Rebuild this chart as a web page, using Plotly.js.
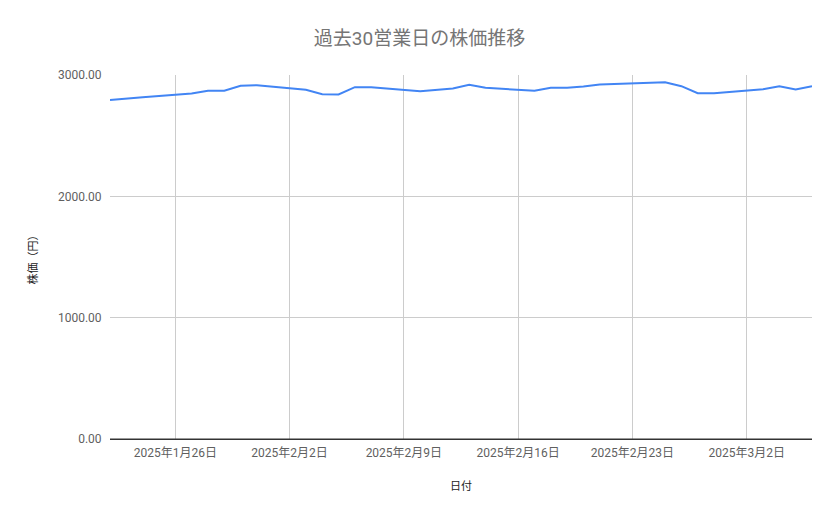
<!DOCTYPE html>
<html>
<head>
<meta charset="utf-8">
<script src="https://cdn.plot.ly/plotly-3.0.1.min.js"></script>
<style>html,body{margin:0;padding:0;background:#fff;}#chart{width:839px;height:519px;}</style>
</head>
<body>
<div id="chart"></div>
<script>
const dates = ["2025-01-22","2025-01-23","2025-01-24","2025-01-27","2025-01-28","2025-01-29","2025-01-30","2025-01-31",
  "2025-02-03","2025-02-04","2025-02-05","2025-02-06","2025-02-07","2025-02-10","2025-02-12","2025-02-13","2025-02-14",
  "2025-02-17","2025-02-18","2025-02-19","2025-02-20","2025-02-21","2025-02-25","2025-02-26","2025-02-27","2025-02-28",
  "2025-03-03","2025-03-04","2025-03-05","2025-03-06"];
const prices = [2793,2807,2817,2848,2870,2870,2911,2916,
  2878,2842,2840,2900,2900,2867,2889,2919,2895,
  2870,2895,2895,2905,2922,2941,2908,2850,2850,
  2883,2908,2881,2908];
const yTicks = [0,1000,2000,3000];
const titleText = "過去30営業日の株価推移";
const xTitle = "日付";
const yTitle = "株価（円）";

const FONT = "Roboto, 'Noto Sans CJK JP', sans-serif";
const trace = {
  x: dates, y: prices, type: "scatter", mode: "lines",
  line: {color: "#4285f4", width: 2},
  hoverinfo: "skip"
};
const layout = {
  width: 839, height: 519,
  margin: {l: 110, r: 27, t: 74.5, b: 80},
  paper_bgcolor: "#fff", plot_bgcolor: "#fff",
  font: {family: FONT, size: 12, color: "#444"},
  showlegend: false,
  title: {text: titleText, x: 0.5, xanchor: "center", y: 0.927, yanchor: "middle",
          font: {family: FONT, size: 19, color: "#757575"}},
  xaxis: {
    type: "date", range: ["2025-01-22", "2025-03-06"],
    tick0: "2025-01-26", dtick: 7*86400000,
    tickformat: "%Y年%-m月%-d日",
    showgrid: true, gridcolor: "#cccccc", gridwidth: 1,
    showline: true, linecolor: "#333", linewidth: 1,
    ticks: "outside", ticklen: 3, tickcolor: "rgba(0,0,0,0)", zeroline: false,
    tickfont: {family: FONT, size: 12, color: "#5f5f5f"},
    title: {text: xTitle, font: {family: FONT, size: 11, color: "#222"}, standoff: 22},
    automargin: false, fixedrange: true
  },
  yaxis: {
    range: [0, 3000], tickvals: yTicks, tickformat: ".2f",
    showgrid: true, gridcolor: "#cccccc", gridwidth: 1,
    zeroline: false, showline: false,
    ticks: "outside", ticklen: 5, tickcolor: "rgba(0,0,0,0)",
    tickfont: {family: FONT, size: 12, color: "#5f5f5f"},
    title: {text: yTitle, font: {family: FONT, size: 11, color: "#222"}, standoff: 18},
    automargin: false, fixedrange: true
  },
  shapes: [{type: "line", xref: "paper", yref: "y", x0: 0, x1: 1, y0: 0, y1: 0,
            line: {color: "#333", width: 1}}]
};
Plotly.newPlot("chart", [trace], layout, {staticPlot: true, displayModeBar: false});
</script>
</body>
</html>
